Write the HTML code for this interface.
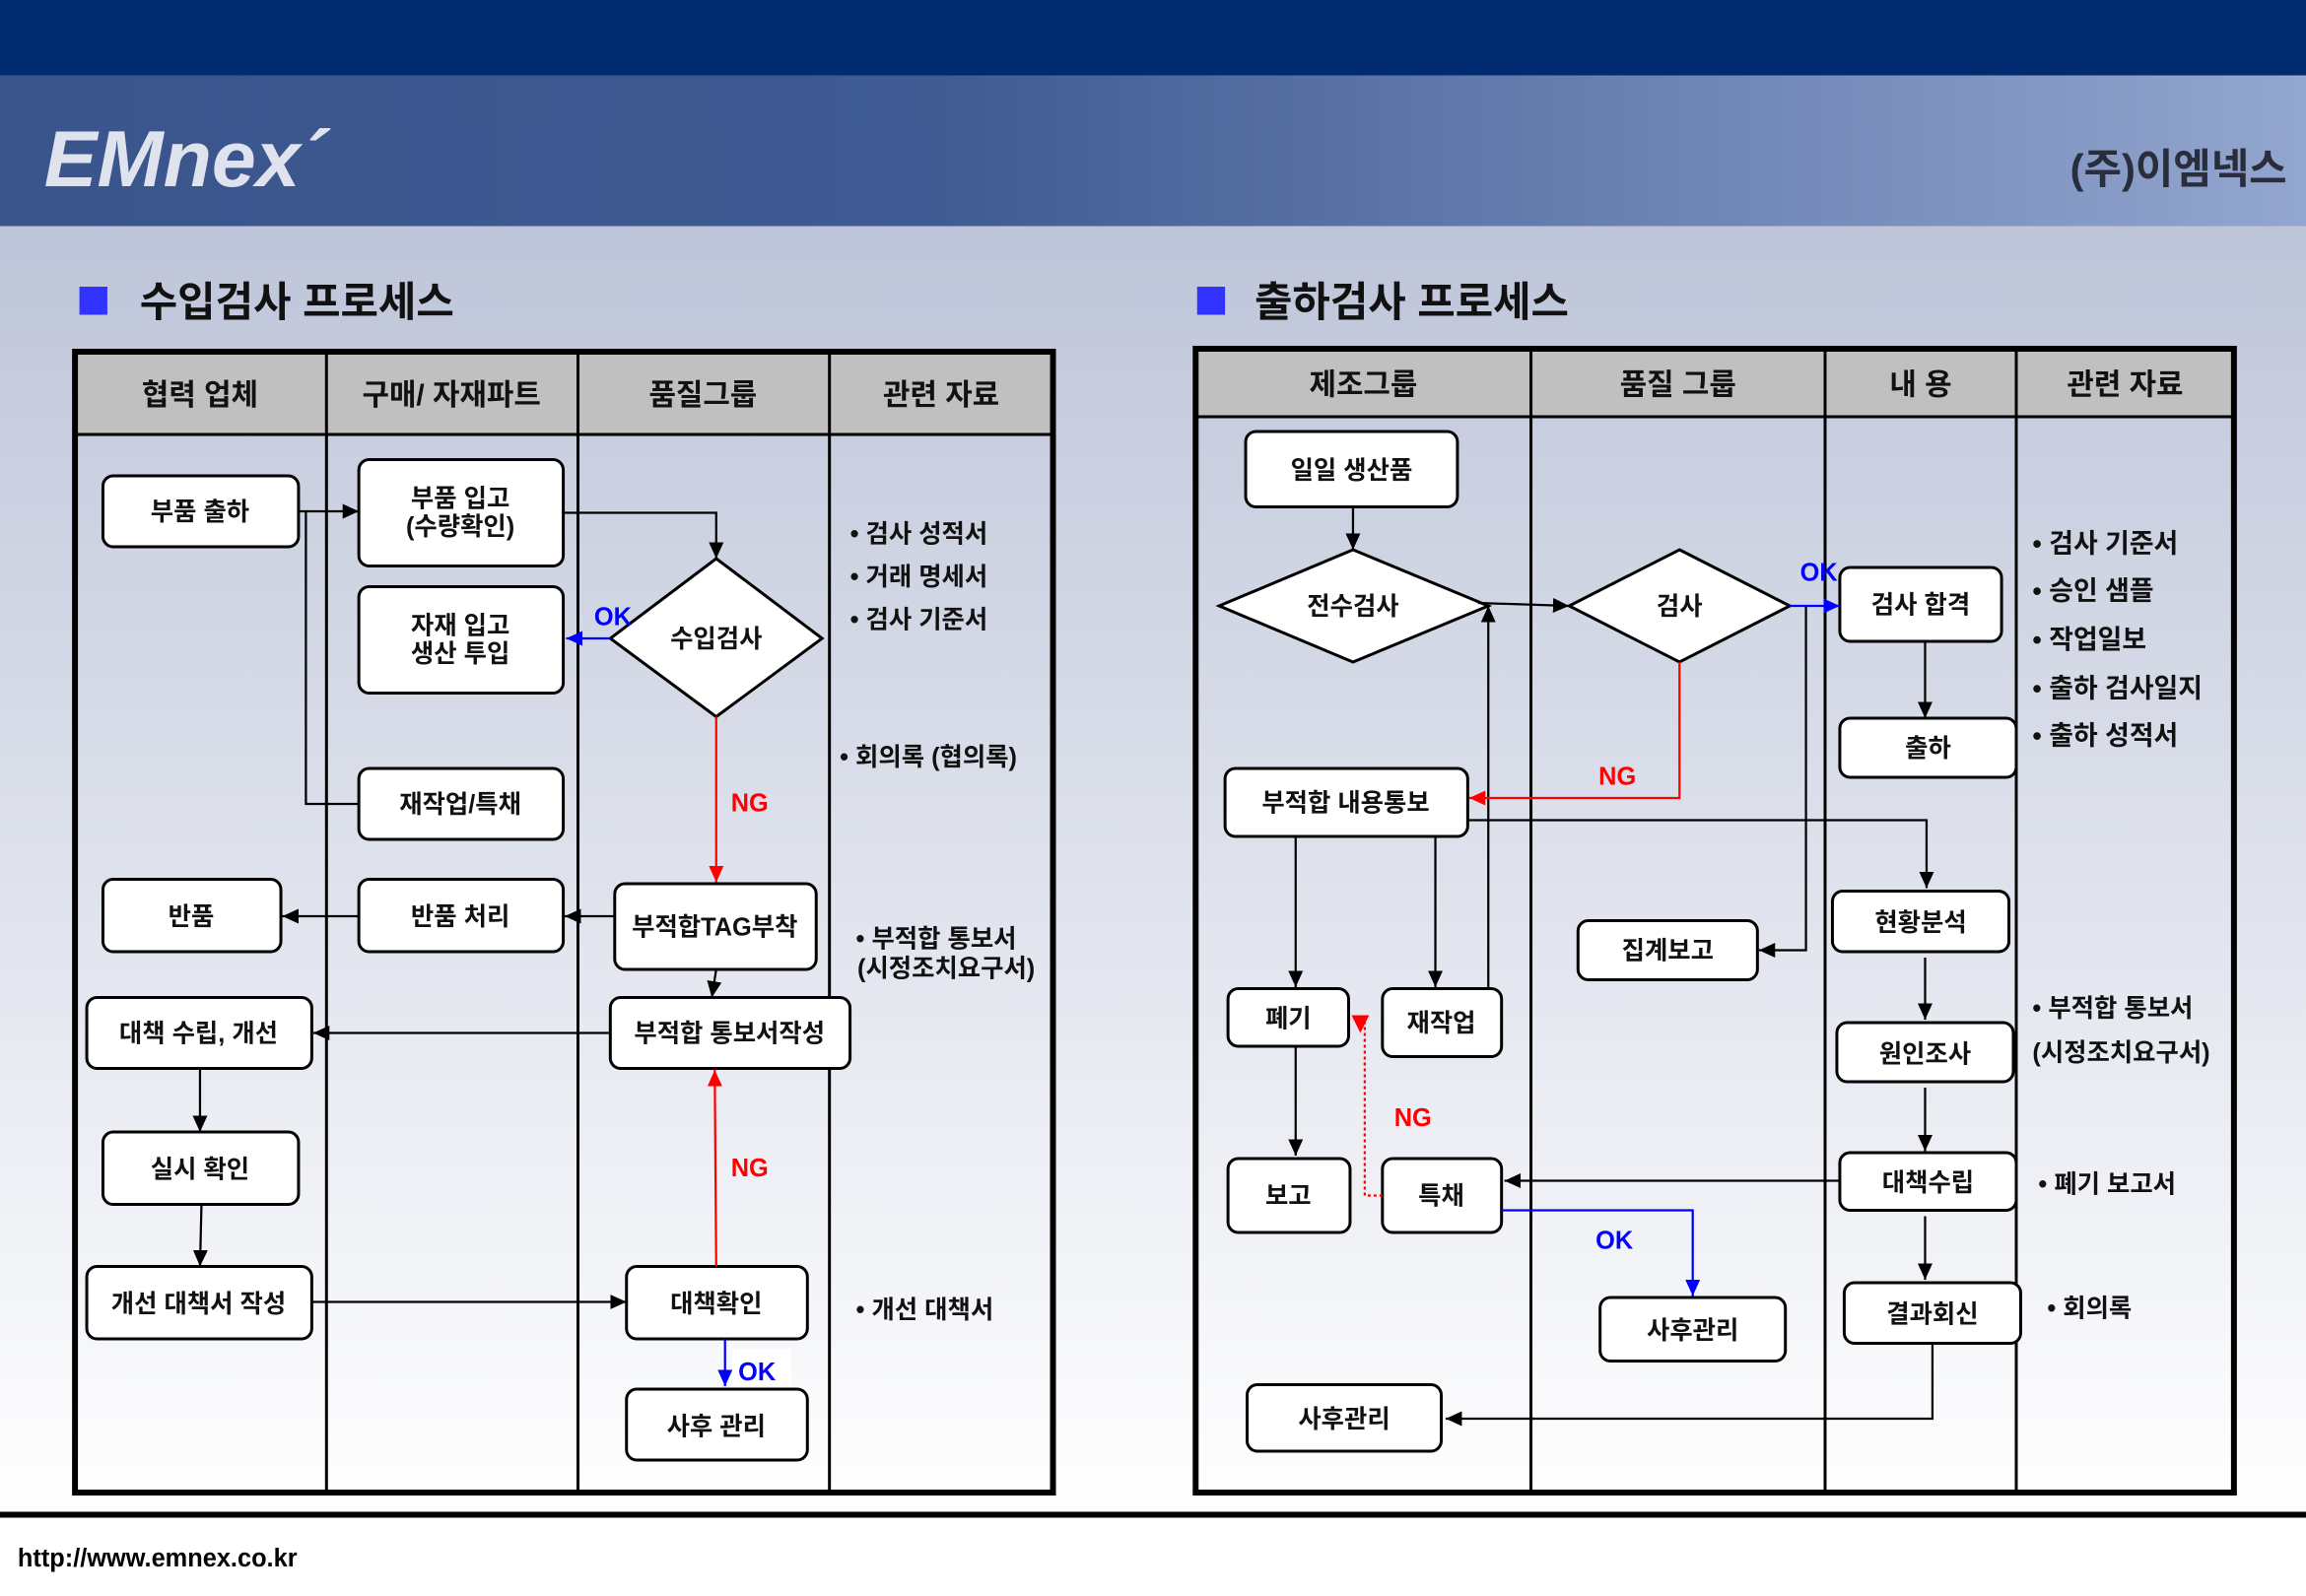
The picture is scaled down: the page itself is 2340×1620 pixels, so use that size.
<!DOCTYPE html>
<html><head><meta charset="utf-8"><style>
html,body{margin:0;padding:0;width:2340px;height:1620px;overflow:hidden;background:#fff}
svg{display:block}
text{font-family:"Liberation Sans","Noto Sans CJK KR","NanumGothic",sans-serif;font-weight:bold}
</style></head><body>
<svg width="2340" height="1620" viewBox="0 0 1568 1080" preserveAspectRatio="none" xmlns="http://www.w3.org/2000/svg">
<defs>
<linearGradient id="hb" x1="0" x2="1" y1="0" y2="0">
<stop offset="0" stop-color="#3a548c"/><stop offset="0.4" stop-color="#3f5a92"/><stop offset="1" stop-color="#93a6cf"/></linearGradient>
<linearGradient id="bg" x1="0" x2="0" y1="0" y2="1">
<stop offset="0" stop-color="#bec5d9"/><stop offset="1" stop-color="#ffffff"/></linearGradient>
<marker id="ak" markerUnits="userSpaceOnUse" markerWidth="12" markerHeight="12" refX="11" refY="6" orient="auto"><path d="M0,1 L11,6 L0,11 Z" fill="#000"/></marker>
<marker id="ar" markerUnits="userSpaceOnUse" markerWidth="12" markerHeight="12" refX="11" refY="6" orient="auto"><path d="M0,1 L11,6 L0,11 Z" fill="#f00"/></marker>
<marker id="ab" markerUnits="userSpaceOnUse" markerWidth="12" markerHeight="12" refX="11" refY="6" orient="auto"><path d="M0,1 L11,6 L0,11 Z" fill="#00f"/></marker>
</defs>
<rect x="0" y="0" width="1568" height="1080" fill="#fff"/>
<rect x="0" y="153" width="1568" height="872" fill="url(#bg)"/>
<rect x="0" y="0" width="1568" height="51" fill="#002b70"/>
<rect x="0" y="51" width="1568" height="102" fill="url(#hb)"/>
<text x="30" y="126" font-size="54" font-style="italic" fill="#dfe3ee">EMnex´</text>
<text x="1555" y="124" font-size="28" fill="#2a2e3c" text-anchor="end">(주)이엠넥스</text>
<rect x="0" y="1023" width="1568" height="4" fill="#000"/>
<text x="12" y="1060" font-size="17" fill="#000" font-weight="normal">http://www.emnex.co.kr</text>

<rect x="54" y="194" width="19" height="19" fill="#3333ff"/>
<text x="95" y="214" font-size="28" fill="#111">수입검사 프로세스</text>
<rect x="814" y="194" width="19" height="19" fill="#3333ff"/>
<text x="853" y="214" font-size="28" fill="#111">출하검사 프로세스</text>

<!-- left table -->
<g stroke="#000" fill="none">
<rect x="51" y="238" width="665" height="56" fill="#c0c0c0" stroke="none"/>
<rect x="51" y="238" width="665" height="772" stroke-width="4"/>
<line x1="51" y1="294" x2="716" y2="294" stroke-width="2"/>
<line x1="222" y1="238" x2="222" y2="1010" stroke-width="2"/>
<line x1="393" y1="238" x2="393" y2="1010" stroke-width="2"/>
<line x1="564" y1="238" x2="564" y2="1010" stroke-width="2"/>
</g>
<g font-size="20" fill="#111" text-anchor="middle">
<text x="136" y="274">협력 업체</text><text x="307" y="274">구매/ 자재파트</text>
<text x="478" y="274">품질그룹</text><text x="640" y="274">관련 자료</text>
</g>
<!-- right table -->
<g stroke="#000" fill="none">
<rect x="813" y="236" width="706" height="46" fill="#c0c0c0" stroke="none"/>
<rect x="813" y="236" width="706" height="774" stroke-width="4"/>
<line x1="813" y1="282" x2="1519" y2="282" stroke-width="2"/>
<line x1="1041" y1="236" x2="1041" y2="1010" stroke-width="2"/>
<line x1="1241" y1="236" x2="1241" y2="1010" stroke-width="2"/>
<line x1="1371" y1="236" x2="1371" y2="1010" stroke-width="2"/>
</g>
<g font-size="20" fill="#111" text-anchor="middle">
<text x="927" y="267">제조그룹</text><text x="1141" y="267">품질 그룹</text>
<text x="1306" y="267">내 용</text><text x="1445" y="267">관련 자료</text>
</g>

<!-- left nodes -->
<g fill="#fff" stroke="#000" stroke-width="2">
<rect x="70" y="322" width="133" height="48" rx="7"/>
<rect x="244" y="311" width="139" height="72" rx="7"/>
<rect x="244" y="397" width="139" height="72" rx="7"/>
<polygon points="487,378 559,432 487,485 415,432"/>
<rect x="244" y="520" width="139" height="48" rx="7"/>
<rect x="70" y="595" width="121" height="49" rx="7"/>
<rect x="244" y="595" width="139" height="49" rx="7"/>
<rect x="418" y="598" width="137" height="58" rx="7"/>
<rect x="59" y="675" width="153" height="48" rx="7"/>
<rect x="415" y="675" width="163" height="48" rx="7"/>
<rect x="70" y="766" width="133" height="49" rx="7"/>
<rect x="59" y="857" width="153" height="49" rx="7"/>
<rect x="426" y="857" width="123" height="49" rx="7"/>
<rect x="426" y="940" width="123" height="48" rx="7"/>
</g>
<g font-size="17" fill="#111" text-anchor="middle">
<text x="136" y="352">부품 출하</text>
<text x="313" y="343">부품 입고</text><text x="313" y="362">(수량확인)</text>
<text x="313" y="429">자재 입고</text><text x="313" y="448">생산 투입</text>
<text x="487" y="438">수입검사</text>
<text x="313" y="550">재작업/특채</text>
<text x="130" y="626">반품</text>
<text x="313" y="626">반품 처리</text>
<text x="486" y="633">부적합TAG부착</text>
<text x="135" y="705">대책 수립, 개선</text>
<text x="496" y="705">부적합 통보서작성</text>
<text x="136" y="797">실시 확인</text>
<text x="135" y="888">개선 대책서 작성</text>
<text x="487" y="888">대책확인</text>
<text x="487" y="971">사후 관리</text>
</g>
<!-- left connectors -->
<g fill="none" stroke="#000" stroke-width="1.5">
<path d="M203,346 H244" marker-end="url(#ak)"/>
<path d="M208,346 V544 H244"/>
<path d="M383,347 H487 V378" marker-end="url(#ak)"/>
<path d="M418,620 H384" marker-end="url(#ak)"/>
<path d="M244,620 H192" marker-end="url(#ak)"/>
<path d="M487,656 L484,675" marker-end="url(#ak)"/>
<path d="M415,699 H213" marker-end="url(#ak)"/>
<path d="M136,723 V766" marker-end="url(#ak)"/>
<path d="M137,815 L136,857" marker-end="url(#ak)"/>
<path d="M212,881 H426" marker-end="url(#ak)"/>
</g>
<path d="M415,432 H385" stroke="#00f" stroke-width="1.5" fill="none" marker-end="url(#ab)"/>
<path d="M487,485 V597" stroke="#f00" stroke-width="1.5" fill="none" marker-end="url(#ar)"/>
<path d="M487,857 L486,724" stroke="#f00" stroke-width="1.5" fill="none" marker-end="url(#ar)"/>
<rect x="498" y="913" width="40" height="25" fill="#fff"/>
<path d="M493,906 V938" stroke="#00f" stroke-width="1.5" fill="none" marker-end="url(#ab)"/>
<g font-size="17">
<text x="404" y="423" fill="#00f">OK</text>
<text x="497" y="549" fill="#f00">NG</text>
<text x="497" y="796" fill="#f00">NG</text>
<text x="502" y="934" fill="#00f">OK</text>
</g>
<g font-size="17" fill="#111">
<text x="578" y="367">• 검사 성적서</text>
<text x="578" y="396">• 거래 명세서</text>
<text x="578" y="425">• 검사 기준서</text>
<text x="571" y="518">• 회의록 (협의록)</text>
<text x="582" y="641">• 부적합 통보서</text>
<text x="583" y="661">(시정조치요구서)</text>
<text x="582" y="892">• 개선 대책서</text>
</g>

<!-- right nodes -->
<g fill="#fff" stroke="#000" stroke-width="2">
<rect x="847" y="292" width="144" height="51" rx="7"/>
<polygon points="920,372 1012,410 920,448 829,410"/>
<polygon points="1142,372 1217,410 1142,448 1067,410"/>
<rect x="1251" y="384" width="110" height="50" rx="7"/>
<rect x="1251" y="486" width="120" height="40" rx="7"/>
<rect x="833" y="520" width="165" height="46" rx="7"/>
<rect x="1246" y="603" width="120" height="41" rx="7"/>
<rect x="1073" y="623" width="122" height="40" rx="7"/>
<rect x="835" y="669" width="82" height="39" rx="7"/>
<rect x="940" y="669" width="81" height="46" rx="7"/>
<rect x="1249" y="692" width="120" height="40" rx="7"/>
<rect x="835" y="784" width="83" height="50" rx="7"/>
<rect x="940" y="784" width="81" height="50" rx="7"/>
<rect x="1251" y="780" width="120" height="39" rx="7"/>
<rect x="1254" y="868" width="120" height="41" rx="7"/>
<rect x="1088" y="878" width="126" height="43" rx="7"/>
<rect x="848" y="937" width="132" height="45" rx="7"/>
</g>
<g font-size="17" fill="#111" text-anchor="middle">
<text x="919" y="324">일일 생산품</text>
<text x="920" y="416">전수검사</text>
<text x="1142" y="416">검사</text>
<text x="1306" y="415">검사 합격</text>
<text x="1311" y="512">출하</text>
<text x="915" y="549">부적합 내용통보</text>
<text x="1306" y="630">현황분석</text>
<text x="1134" y="649">집계보고</text>
<text x="876" y="695">폐기</text>
<text x="980" y="698">재작업</text>
<text x="1309" y="719">원인조사</text>
<text x="876" y="815">보고</text>
<text x="980" y="815">특채</text>
<text x="1311" y="806">대책수립</text>
<text x="1314" y="895">결과회신</text>
<text x="1151" y="906">사후관리</text>
<text x="914" y="966">사후관리</text>
</g>
<g fill="none" stroke="#000" stroke-width="1.5">
<path d="M920,343 V372" marker-end="url(#ak)"/>
<path d="M1005,408 L1067,410" marker-end="url(#ak)"/>
<path d="M1228,410 V643 H1196" marker-end="url(#ak)"/>
<path d="M998,555 H1310 V601" marker-end="url(#ak)"/>
<path d="M1309,434 V486" marker-end="url(#ak)"/>
<path d="M1309,648 V690" marker-end="url(#ak)"/>
<path d="M1309,736 V779" marker-end="url(#ak)"/>
<path d="M1309,823 V866" marker-end="url(#ak)"/>
<path d="M1314,909 V960 H983" marker-end="url(#ak)"/>
<path d="M1251,799 H1023" marker-end="url(#ak)"/>
<path d="M881,566 V668" marker-end="url(#ak)"/>
<path d="M976,566 V668" marker-end="url(#ak)"/>
<path d="M1012,669 V410" marker-end="url(#ak)"/>
<path d="M881,708 V782" marker-end="url(#ak)"/>
</g>
<path d="M1217,410 H1251" stroke="#00f" stroke-width="1.5" fill="none" marker-end="url(#ab)"/>
<path d="M1021,819 H1151 V877" stroke="#00f" stroke-width="1.5" fill="none" marker-end="url(#ab)"/>
<path d="M1142,448 V540 H999" stroke="#f00" stroke-width="1.5" fill="none" marker-end="url(#ar)"/>
<path d="M940,809 H928 V692" stroke="#f00" stroke-width="1.5" stroke-dasharray="2,2" fill="none"/>
<path d="M919,687 L931,687 L925,699 Z" fill="#f00"/>
<g font-size="17">
<text x="1224" y="393" fill="#00f">OK</text>
<text x="1087" y="531" fill="#f00">NG</text>
<text x="948" y="762" fill="#f00">NG</text>
<text x="1085" y="845" fill="#00f">OK</text>
</g>
<g font-size="18" fill="#111">
<text x="1382" y="374">• 검사 기준서</text>
<text x="1382" y="406">• 승인 샘플</text>
<text x="1382" y="439">• 작업일보</text>
<text x="1382" y="472">• 출하 검사일지</text>
<text x="1382" y="504">• 출하 성적서</text>
</g>
<g font-size="17" fill="#111">
<text x="1382" y="688">• 부적합 통보서</text>
<text x="1382" y="718">(시정조치요구서)</text>
<text x="1386" y="807">• 폐기 보고서</text>
<text x="1392" y="891">• 회의록</text>
</g>
</svg>
</body></html>
